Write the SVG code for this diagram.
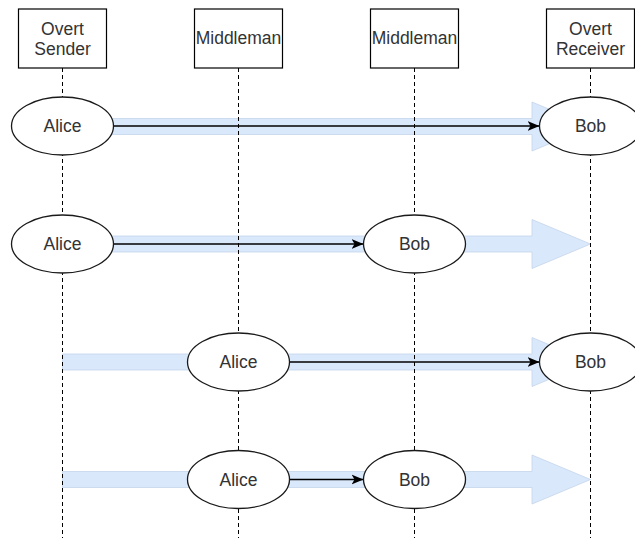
<svg xmlns="http://www.w3.org/2000/svg" width="635" height="538" viewBox="0 0 635 538">
  <style>
    .box { fill: #ffffff; stroke: #000000; stroke-width: 1.2; }
    .life { stroke: #000000; stroke-width: 1; stroke-dasharray: 4 3; fill: none; }
    .actor { fill: #ffffff; stroke: #1a1a1a; stroke-width: 1.3; }
    .lbl { font-family: "Liberation Sans", Arial, Helvetica, sans-serif; font-size: 17.5px; fill: #333333; text-anchor: middle; }
    .flow { fill: #dae8fc; stroke: #c4d4ea; stroke-width: 0.8; }
    .msg { stroke: #000000; stroke-width: 1.4; fill: none; marker-end: url(#classic); }
  </style>
  <defs>
    <marker id="classic" markerUnits="userSpaceOnUse" markerWidth="13" markerHeight="11" refX="12" refY="5.5" orient="auto">
      <path d="M0,0.5 L12,5.5 L0,10.5 L3,5.5 Z" fill="#000000"/>
    </marker>
    <!-- broad flow arrow from the sender lifeline to the receiver lifeline -->
    <path id="flowArrow" d="M62.5,-8 H532 V-24.5 L590.5,0 L532,24.5 V8 H62.5 Z"/>
  </defs>

  <rect width="635" height="538" fill="#ffffff"/>

  <!-- broad flow arrows (behind everything) -->
  <g id="flows">
    <use href="#flowArrow" class="flow" transform="translate(0,126.5)"/>
    <use href="#flowArrow" class="flow" transform="translate(0,244)"/>
    <use href="#flowArrow" class="flow" transform="translate(0,362)"/>
    <use href="#flowArrow" class="flow" transform="translate(0,479.5)"/>
  </g>

  <!-- participants with their lifelines -->
  <g id="overt-sender">
    <line class="life" x1="62.5" y1="68" x2="62.5" y2="538"/>
    <rect class="box" x="18.5" y="9" width="88" height="59"/>
    <text class="lbl" x="62.5" y="35">Overt</text>
    <text class="lbl" x="62.5" y="55">Sender</text>
  </g>
  <g id="middleman-1">
    <line class="life" x1="238.5" y1="68" x2="238.5" y2="538"/>
    <rect class="box" x="194.5" y="9" width="88" height="59"/>
    <text class="lbl" x="238.5" y="44">Middleman</text>
  </g>
  <g id="middleman-2">
    <line class="life" x1="414.5" y1="68" x2="414.5" y2="538"/>
    <rect class="box" x="370.5" y="9" width="88" height="59"/>
    <text class="lbl" x="414.5" y="44">Middleman</text>
  </g>
  <g id="overt-receiver">
    <line class="life" x1="590.5" y1="68" x2="590.5" y2="538"/>
    <rect class="box" x="546.5" y="9" width="88" height="59"/>
    <text class="lbl" x="590.5" y="35">Overt</text>
    <text class="lbl" x="590.5" y="55">Receiver</text>
  </g>

  <!-- message connectors -->
  <g id="connectors">
    <line class="msg" x1="113.5" y1="126" x2="539.5" y2="126"/>
    <line class="msg" x1="113.5" y1="244" x2="363.5" y2="244"/>
    <line class="msg" x1="289.5" y1="362" x2="539.5" y2="362"/>
    <line class="msg" x1="289.5" y1="479.5" x2="363.5" y2="479.5"/>
  </g>

  <!-- row 1: sender to receiver -->
  <g id="alice-1">
    <ellipse class="actor" cx="62.5" cy="126" rx="51" ry="29"/>
    <text class="lbl" x="62.5" y="132">Alice</text>
  </g>
  <g id="bob-1">
    <ellipse class="actor" cx="590.5" cy="126" rx="51" ry="29"/>
    <text class="lbl" x="590.5" y="132">Bob</text>
  </g>

  <!-- row 2: sender to second middleman -->
  <g id="alice-2">
    <ellipse class="actor" cx="62.5" cy="244" rx="51" ry="29"/>
    <text class="lbl" x="62.5" y="250">Alice</text>
  </g>
  <g id="bob-2">
    <ellipse class="actor" cx="414.5" cy="244" rx="51" ry="29"/>
    <text class="lbl" x="414.5" y="250">Bob</text>
  </g>

  <!-- row 3: first middleman to receiver -->
  <g id="alice-3">
    <ellipse class="actor" cx="238.5" cy="362" rx="51" ry="29"/>
    <text class="lbl" x="238.5" y="368">Alice</text>
  </g>
  <g id="bob-3">
    <ellipse class="actor" cx="590.5" cy="362" rx="51" ry="29"/>
    <text class="lbl" x="590.5" y="368">Bob</text>
  </g>

  <!-- row 4: middleman to middleman -->
  <g id="alice-4">
    <ellipse class="actor" cx="238.5" cy="479.5" rx="51" ry="29"/>
    <text class="lbl" x="238.5" y="485.5">Alice</text>
  </g>
  <g id="bob-4">
    <ellipse class="actor" cx="414.5" cy="479.5" rx="51" ry="29"/>
    <text class="lbl" x="414.5" y="485.5">Bob</text>
  </g>
</svg>
